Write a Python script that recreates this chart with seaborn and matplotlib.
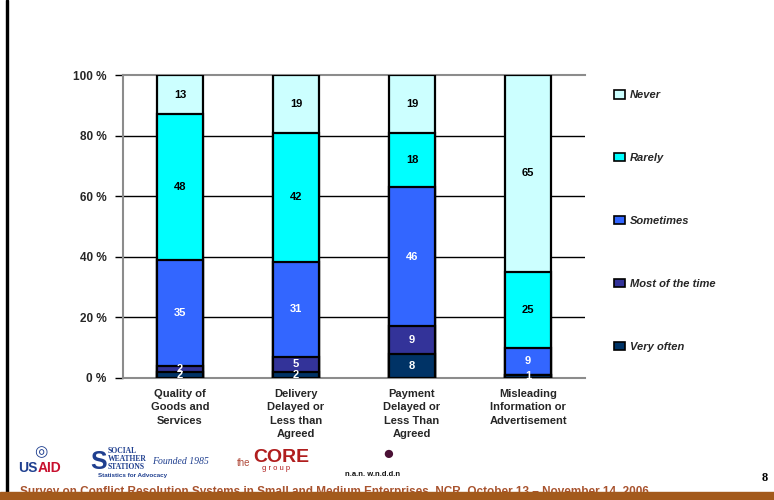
import matplotlib
matplotlib.use("Agg")
import matplotlib.pyplot as plt
import seaborn as sns
import numpy as np
import pandas as pd
from matplotlib.patches import Patch, Rectangle

sns.set_theme(style="white")
plt.rcParams['font.family'] = ['Liberation Sans', 'DejaVu Sans']

categories = ["Quality of\nGoods and\nServices",
              "Delivery\nDelayed or\nLess than\nAgreed",
              "Payment\nDelayed or\nLess Than\nAgreed",
              "Misleading\nInformation or\nAdvertisement"]
series_names = ["Very often", "Most of the time", "Sometimes", "Rarely", "Never"]
very_often = [2, 2, 8, 1]
most_of_time = [2, 5, 9, 0]
sometimes = [35, 31, 46, 9]
rarely = [48, 42, 18, 25]
never = [13, 19, 19, 65]
colors = ["#003366", "#333399", "#3366FF", "#00FFFF", "#CCFFFF"]
label_colors = ["white", "white", "white", "black", "black"]
yticks = [0, 20, 40, 60, 80, 100]
ytick_labels = ["0 %", "20 %", "40 %", "60 %", "80 %", "100 %"]

vals = np.array([very_often, most_of_time, sometimes, rarely, never], dtype=float)
pct = vals / vals.sum(axis=0) * 100
cum = np.cumsum(pct, axis=0)

fig = plt.figure(figsize=(7.74, 5.0), dpi=100)
ax = fig.add_axes([123/774, 122/500, 462/774, 303/500])

for i in range(len(series_names) - 1, -1, -1):
    df = pd.DataFrame({"cat": categories, "v": cum[i]})
    sns.barplot(data=df, x="cat", y="v", color=colors[i], width=0.4,
                edgecolor="black", linewidth=1.6, saturation=1, ax=ax, zorder=3)

for j in range(len(categories)):
    for i in range(len(series_names)):
        if vals[i, j] <= 0:
            continue
        c = cum[i, j] - pct[i, j] / 2
        ax.text(j, c, f"{int(vals[i, j])}", ha="center", va="center",
                fontsize=8, fontweight="bold", color=label_colors[i], zorder=5)

ax.set_xlim(-0.49, 3.49)
ax.set_ylim(0, 100)
ax.set_yticks(yticks)
ax.set_yticklabels(ytick_labels, fontsize=8.5, fontweight="bold")
for y in [20, 40, 60, 80]:
    ax.axhline(y, color="black", lw=1.0, zorder=1)
ax.set_xlabel("")
ax.set_ylabel("")
ax.tick_params(axis="y", left=True, length=6, width=1, color="black", pad=6)
ax.tick_params(axis="x", bottom=False, pad=2)
ax.set_xticks(range(len(categories)))
ax.set_xticklabels(categories, fontsize=8, fontweight="bold", linespacing=1.42, va="top")
for s in ["left", "bottom", "top"]:
    ax.spines[s].set_color("#8c8c8c")
    ax.spines[s].set_linewidth(1.5)
ax.spines["right"].set_visible(False)

handles = [Patch(facecolor=colors[i], edgecolor="black", linewidth=1.2)
           for i in range(len(series_names) - 1, -1, -1)]
labels = series_names[::-1]
leg = fig.legend(handles, labels, loc="upper left", bbox_to_anchor=(604/774, 1 - 80/500),
                 frameon=False, labelspacing=4.75, handlelength=1.0, handleheight=0.8,
                 handletextpad=0.4, prop={"size": 8, "weight": "bold", "style": "italic"})

# footer decorations
fig.patches.append(Rectangle((6/774, 8/500), 2/774, 492/500, transform=fig.transFigure,
                             color="black", zorder=10))
fig.text(18/774, 1 - 468/500, "US", color="#1f3f8f", fontsize=10, fontweight="bold", va="center")
fig.text(38/774, 1 - 468/500, "AID", color="#c8102e", fontsize=10, fontweight="bold", va="center")
fig.text(34/774, 1 - 452/500, "\u25CE", color="#1f3f8f", fontsize=11, va="center")
fig.text(90/774, 1 - 462/500, "S", color="#1f3f8f", fontsize=18, fontweight="bold", va="center")
fig.text(108/774, 1 - 459/500, "SOCIAL\nWEATHER\nSTATIONS", color="#1f3f8f", fontsize=5.5,
         fontweight="bold", va="center", linespacing=0.95, family="Liberation Serif")
fig.text(152/774, 1 - 462/500, "Founded 1985", color="#1f3f8f", fontsize=7,
         style="italic", va="center", family="Liberation Serif")
fig.text(98/774, 1 - 476/500, "Statistics for Advocacy", color="#1f3f8f", fontsize=4.5,
         va="center", fontweight="bold")
fig.text(237/774, 1 - 463/500, "the", color="#b04a3a", fontsize=7, va="center")
fig.text(253/774, 1 - 457/500, "CORE", color="#b01e1e", fontsize=14, fontweight="bold", va="center")
fig.text(262/774, 1 - 468/500, "g r o u p", color="#b01e1e", fontsize=5.5, va="center")
fig.text(388/774, 1 - 454/500, "\u25CF", color="#4a1035", fontsize=14, va="center", ha="center")
fig.text(345/774, 1 - 474/500, "n.a.n. w.n.d.d.n", color="#111111", fontsize=5.5,
         fontweight="bold", va="center")
fig.text(762/774, 1 - 478/500, "8", color="black", fontsize=9, fontweight="bold",
         family="Liberation Serif", va="center")
fig.text(20/774, 1 - 495/500,
         "Survey on Conflict Resolution Systems in Small and Medium Enterprises, NCR, October 13 \u2013 November 14, 2006",
         color="#a8532e", fontsize=8.5, fontweight="bold", va="baseline", zorder=5)
fig.patches.append(Rectangle((0, 0), 1, 8/500, transform=fig.transFigure,
                             color="#a35a1c", zorder=11))

fig.savefig("out.png", dpi=100)
